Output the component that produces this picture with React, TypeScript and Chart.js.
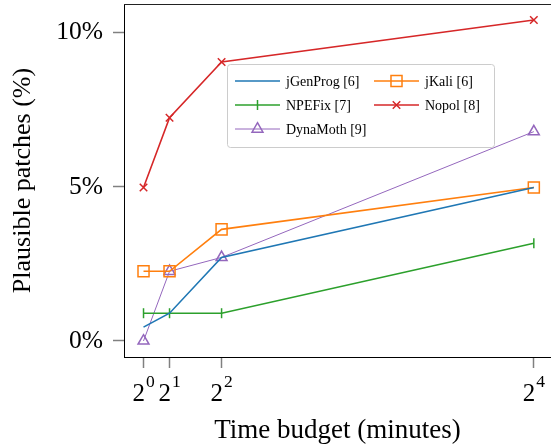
import React, { useEffect, useRef } from 'react';
import { Chart, registerables } from 'chart.js';
import { drawPoint } from 'chart.js/helpers';

Chart.register(...registerables);

// ---- data ----
const budgets = [1, 2, 4, 16];
const xTickBase = ['2', '2', '2', '2'];
const xTickExponent = ['0', '1', '2', '4'];
const yTickValues = [0, 5, 10];
const yTickLabels = ['0%', '5%', '10%'];

const jGenProg = [0.45, 0.9, 2.71, 4.98];
const jKali = [2.26, 2.26, 3.62, 4.98];
const npeFix = [0.9, 0.9, 0.9, 3.17];
const nopol = [4.98, 7.24, 9.05, 10.41];
const dynaMoth = [0, 2.26, 2.71, 6.79];

const seriesNames = ['jGenProg [6]', 'jKali [6]', 'NPEFix [7]', 'Nopol [8]', 'DynaMoth [9]'];

const SERIF = "'Liberation Serif', 'Times New Roman', serif";

const toPoints = (vals: number[]) => vals.map((v, i) => ({ x: budgets[i], y: v }));

const framePlugin = {
  id: 'frame',
  afterDatasetsDraw(chart: any) {
    const { ctx, chartArea } = chart;
    ctx.save();
    ctx.strokeStyle = '#222';
    ctx.lineWidth = 1;
    ctx.beginPath();
    ctx.moveTo(chartArea.left, chartArea.top + 0.5);
    ctx.lineTo(chartArea.right + 2, chartArea.top + 0.5);
    ctx.stroke();
    ctx.restore();
  },
};

// x tick labels as "2" with a raised exponent, positioned by the x scale
const powerTicksPlugin = {
  id: 'powerTicks',
  afterDraw(chart: any) {
    const { ctx } = chart;
    const xs = chart.scales.x;
    ctx.save();
    ctx.fillStyle = '#000';
    ctx.textBaseline = 'alphabetic';
    ctx.textAlign = 'left';
    const baseY = xs.top + 44;
    budgets.forEach((v, i) => {
      const px = xs.getPixelForValue(v);
      ctx.font = `25px ${SERIF}`;
      const wb = ctx.measureText(xTickBase[i]).width;
      ctx.font = `17.5px ${SERIF}`;
      const we = ctx.measureText(xTickExponent[i]).width;
      const total = wb + 1 + we;
      const x0 = px - total / 2;
      ctx.font = `25px ${SERIF}`;
      ctx.fillText(xTickBase[i], x0, baseY);
      ctx.font = `17.5px ${SERIF}`;
      ctx.fillText(xTickExponent[i], x0 + wb + 1, baseY - 14);
    });
    ctx.restore();
  },
};

const legendPlugin = {
  id: 'boxLegend',
  afterDatasetsDraw(chart: any) {
    const { ctx } = chart;
    const bx = 227, by = 64, bw = 267, bh = 83;
    ctx.save();
    ctx.fillStyle = 'rgba(255,255,255,0.85)';
    ctx.strokeStyle = '#cccccc';
    ctx.lineWidth = 1;
    ctx.beginPath();
    if ((ctx as any).roundRect) (ctx as any).roundRect(bx + 0.5, by + 0.5, bw, bh, 3);
    else ctx.rect(bx + 0.5, by + 0.5, bw, bh);
    ctx.fill();
    ctx.stroke();
    chart.data.datasets.forEach((ds: any, i: number) => {
      const row = Math.floor(i / 2);
      const col = i % 2;
      const y = 81 + row * 24;
      const x0 = col === 0 ? 235 : 374;
      const len = 45;
      ctx.strokeStyle = ds.borderColor;
      ctx.lineWidth = ds.borderWidth;
      ctx.beginPath();
      ctx.moveTo(x0, y);
      ctx.lineTo(x0 + len, y);
      ctx.stroke();
      if (ds.pointRadius > 0) {
        ctx.fillStyle = 'rgba(0,0,0,0)';
        ctx.strokeStyle = ds.borderColor;
        ctx.lineWidth = ds.pointBorderWidth;
        drawPoint(ctx, {
          pointStyle: ds.pointStyle,
          rotation: ds.pointRotation || 0,
          radius: ds.pointRadius,
          borderWidth: ds.pointBorderWidth,
        } as any, x0 + len / 2, y);
      }
      ctx.fillStyle = '#000';
      ctx.font = `14px ${SERIF}`;
      ctx.textBaseline = 'middle';
      ctx.textAlign = 'left';
      ctx.fillText(ds.label, x0 + len + 6, y + 1);
    });
    ctx.restore();
  },
};

export default function App() {
  const ref = useRef<HTMLCanvasElement | null>(null);

  useEffect(() => {
    document.body.style.margin = '0';
    const canvas = ref.current;
    if (!canvas) return;
    const mk = (label: string, data: number[], color: string, style: any, radius: number, width: number, rot = 0) => ({
      label,
      data: toPoints(data),
      borderColor: color,
      backgroundColor: color,
      borderWidth: width,
      pointStyle: style,
      pointRadius: radius,
      pointHoverRadius: radius,
      pointRotation: rot,
      pointBorderColor: color,
      pointBackgroundColor: 'rgba(0,0,0,0)',
      pointBorderWidth: 1.5,
      tension: 0,
      clip: false,
    });
    const chart = new Chart(canvas, {
      type: 'line',
      data: {
        datasets: [
          mk(seriesNames[0], jGenProg, '#1f77b4', 'circle', 0, 1.6),
          mk(seriesNames[1], jKali, '#ff7f0e', 'rect', 7.8, 1.6),
          mk(seriesNames[2], npeFix, '#2ca02c', 'line', 5, 1.6, 90),
          mk(seriesNames[3], nopol, '#d62728', 'crossRot', 5.3, 1.6),
          mk(seriesNames[4], dynaMoth, '#9467bd', 'triangle', 6.3, 1.0),
        ] as any,
      },
      plugins: [framePlugin, legendPlugin, powerTicksPlugin],
      options: {
        animation: false,
        responsive: false,
        devicePixelRatio: 1,
        layout: { autoPadding: false, padding: { top: 4, right: 0, left: 0, bottom: 0 } },
        plugins: { legend: { display: false }, tooltip: { enabled: false } },
        scales: {
          x: {
            type: 'linear',
            min: 0.25,
            max: 16.66,
            afterBuildTicks: (scale: any) => {
              scale.ticks = budgets.map((v) => ({ value: v }));
            },
            afterFit: (scale: any) => {
              scale.height = 88;
              scale.paddingLeft = 0;
              scale.paddingRight = 0;
            },
            ticks: {
              autoSkip: false,
              maxRotation: 0,
              padding: 8,
              color: '#000',
              font: { family: SERIF, size: 25 },
              callback: () => '',
            },
            grid: {
              drawOnChartArea: false,
              drawTicks: true,
              tickLength: 11,
              tickColor: '#808080',
              tickWidth: 1.5,
            },
            border: { display: true, color: '#000', width: 1 },
            title: {
              display: true,
              text: 'Time budget (minutes)',
              color: '#000',
              font: { family: SERIF, size: 27, lineHeight: 1.2 },
              padding: { top: 0, bottom: -2 },
            },
          },
          y: {
            type: 'linear',
            min: -0.52,
            max: 10.93,
            afterBuildTicks: (scale: any) => {
              scale.ticks = yTickValues.map((v) => ({ value: v }));
            },
            afterFit: (scale: any) => {
              scale.width = 124;
              scale.paddingTop = 0;
              scale.paddingBottom = 0;
            },
            ticks: {
              padding: 10,
              color: '#000',
              font: { family: SERIF, size: 25.5 },
              callback: (v: any) => {
                const idx = yTickValues.indexOf(Number(v));
                return idx >= 0 ? yTickLabels[idx] : '';
              },
            },
            grid: {
              drawOnChartArea: false,
              drawTicks: true,
              tickLength: 11,
              tickColor: '#808080',
              tickWidth: 1.5,
            },
            border: { display: true, color: '#000', width: 1 },
            title: {
              display: true,
              text: 'Plausible patches (%)',
              color: '#000',
              font: { family: SERIF, size: 26, lineHeight: 1.2 },
              padding: { top: 8, bottom: 0 },
            },
          },
        },
      } as any,
    });
    return () => chart.destroy();
  }, []);

  return (
    <div style={{ width: 551, height: 445, background: '#fff' }}>
      <canvas ref={ref} width={551} height={445} style={{ display: 'block' }} />
    </div>
  );
}
